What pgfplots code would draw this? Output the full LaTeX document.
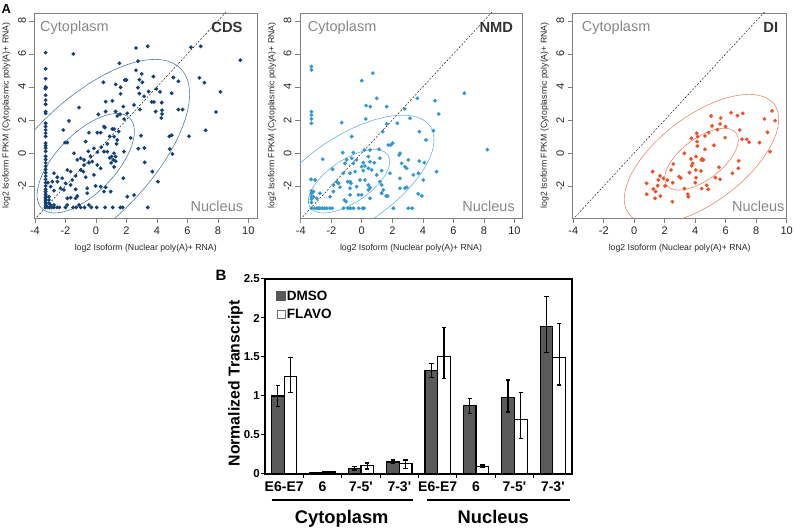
\documentclass[border=0pt]{standalone}
\usepackage{pgfplots}
\pgfplotsset{compat=1.18}
\usepackage{fontspec}
\setmainfont{Liberation Sans}

\definecolor{cdsdot}{RGB}{16,64,120}
\definecolor{cdsell}{RGB}{85,125,165}
\definecolor{nmddot}{RGB}{50,150,210}
\definecolor{nmdell}{RGB}{110,180,220}
\definecolor{didot}{RGB}{235,80,40}
\definecolor{diell}{RGB}{235,135,105}
\definecolor{lblgray}{RGB}{135,135,135}
\definecolor{dmso}{RGB}{90,90,90}

\pgfplotsset{
 panelA/.style={
  scale only axis, height=205pt,
  ymin=-3.94, ymax=8.48,
  xtick={-4,-2,0,2,4,6,8,10}, ytick={-2,0,2,4,6,8},
  xtick pos=bottom, ytick pos=left,
  tick align=outside, major tick length=5pt,
  axis line style={draw=black!50, line width=0.6pt},
  tick style={draw=black!50, line width=0.6pt},
  tick label style={font=\fontsize{11}{11}\selectfont, text=black!85},
  yticklabel style={rotate=90, anchor=south},
  /pgf/number format/assume math mode=true,
  xlabel={log2 Isoform (Nuclear poly(A)+ RNA)},
  ylabel={log2 Isoform FPKM (Cytoplasmic poly(A)+ RNA)},
  label style={font=\fontsize{8.7}{8.7}\selectfont, text=black!85},
  xlabel style={at={([yshift=-30.3pt]axis description cs:0.5,0)}, anchor=center},
  ylabel style={at={([xshift=-28pt]axis description cs:0,0.5)}, anchor=center},
 },
 diag/.style={black, line width=0.4pt, dash pattern=on 2pt off 1.6pt},
 dots/.style={only marks, mark=*, mark size=1.9pt, color=#1, mark options={draw=#1, fill=#1, line width=0.1pt}},
}

\begin{document}
\begin{tikzpicture}
\useasboundingbox (0,0) rectangle (796pt,529pt);

% ---------------- CDS ----------------
\begin{axis}[panelA, at={(34.5pt,311pt)}, anchor=south west, width=222.5pt,
  xmin=-4.03, xmax=10.57]
\addplot[diag] coordinates {(-5,-5) (11,11)};
\draw[cdsell, line width=0.6pt, rotate around={46:(axis cs:-0.667,-0.624)}] (axis cs:-0.667,-0.624) ellipse [x radius=63pt, y radius=29.5pt];
\draw[cdsell, line width=0.6pt, rotate around={45:(axis cs:-0.667,-0.624)}] (axis cs:-0.667,-0.624) ellipse [x radius=134pt, y radius=60pt];
\addplot[dots=cdsdot] coordinates {
(-3.3,6.08)(-3.3,5.1)(-3.3,4.5)(-3.3,4.0)(-3.28,3.95)(-3.32,3.9)(-3.3,3.5)(-3.3,3.2)(-3.3,2.95)(-3.3,2.5)(-3.3,2.4)(-3.3,1.8)(-3.3,1.6)(-3.3,1.4)(-3.3,1.2)(-3.3,1.0)(-3.3,0.6)(-3.3,0.45)(-3.3,0.3)(-3.3,0.1)(-3.3,-0.2)(-3.3,-0.4)(-3.3,-0.6)(-3.3,-0.8)(-3.3,-1.0)(-3.3,-1.2)(-3.3,-1.4)(-3.3,-1.6)(-3.3,-1.8)(-3.3,-2.0)(-3.3,-2.2)(-3.3,-2.35)(-3.3,-2.5)(-3.3,-2.6)(-3.3,-2.7)(-3.3,-2.8)(-3.3,-2.9)(-3.3,-3.0)(-3.3,-3.1)(-3.3,-3.2)(-3.3,-3.3)
(-3.15,-3.3)(-3.05,-3.3)(-2.9,-3.3)(-2.75,-3.3)(-2.55,-3.3)(-2.4,-3.3)(-2.0,-3.3)(-1.5,-3.3)(-1.3,-3.3)(-1.0,-3.3)(-0.75,-3.3)(-0.3,-3.3)(0.05,-3.3)(0.6,-3.3)(1.1,-3.3)(1.6,-3.3)(1.75,-3.3)(3.4,-3.3)
(2.63,6.36)(3.40,6.46)(6.24,6.40)(6.88,6.46)(9.48,5.62)(-1.48,6.0)(2.76,5.56)(1.54,5.43)(2.63,5.01)(3.0,4.79)(3.77,4.63)(2.85,4.44)(3.05,4.28)(5.08,4.57)(5.41,4.34)(6.79,4.55)(7.12,4.26)(2.76,3.96)(3.46,3.72)(3.97,3.88)(4.21,3.70)(2.85,3.60)(3.16,3.43)(4.97,3.62)(8.17,3.70)(2.50,2.91)(2.89,2.63)(3.66,3.09)(3.81,3.09)(4.32,3.05)(3.92,2.51)(4.34,2.59)(4.34,2.36)(4.29,2.12)(5.41,2.63)(5.69,2.63)(7.88,2.48)(2.28,0.91)(2.96,1.05)(4.82,1.01)(4.97,1.07)(6.11,1.01)(7.2,1.37)(2.78,0.26)(3.18,0.30)(4.84,0.24)(5.02,-0.06)(3.2,-0.57)
(0.49,4.28)(1.9,4.42)(2.0,4.42)(1.62,3.98)(1.3,4.15)
(1.62,3.58)(1.08,3.15)(0.64,3.11)(1.8,2.81)(-1.11,2.75)(0.16,2.34)(0.64,2.51)(1.29,2.51)(1.4,2.24)(1.58,2.34)(-1.77,1.94)(-2.14,1.39)(0.53,1.6)(0.59,1.54)(0.09,1.23)(0.31,1.23)(-0.46,1.23)(1.19,0.99)(1.40,0.79)(-2.03,0.63)(-1.88,0.63)(-0.67,0.69)(-0.13,0.28)(0.53,0.08)(0.75,0.08)(1.19,-0.02)(1.03,-0.22)(1.29,-0.22)(1.14,-0.42)(1.84,0.08)(-1.22,-0.42)(-1.0,-0.32)(-0.78,-0.42)(-1.44,-0.02)(1.08,1.45)(1.2,1.45)(0.9,1.0)(-0.5,0.1)(0.1,0.05)(-0.35,-0.2)(0.35,0.35)(1.0,-0.6)(1.3,-0.5)(1.2,-0.85)(0.9,-0.3)(1.35,0.55)(1.5,1.3)(0.75,0.55)(1.85,2.05)(2.05,2.4)
(-2.75,-1.23)(-2.53,-1.47)(-2.21,-1.53)(-1.88,-1.03)(-1.66,-1.13)(-1.55,-1.64)(-1.33,-1.39)(-1.0,-1.03)(-0.78,-0.73)(-0.83,-1.13)(-0.46,-0.59)(-0.24,-0.52)(0.09,-0.73)(0.31,-0.93)(-0.67,-1.47)(-0.13,-1.33)(-1.99,-1.84)(-2.53,-1.74)(-2.86,-1.74)(-3.15,-1.80)(-2.97,-2.04)(-2.32,-2.14)(-2.10,-2.24)(-2.75,-2.28)(-1.66,-1.94)(-1.33,-2.20)(-0.57,-2.14)(-0.02,-2.0)(0.31,-2.04)(0.64,-2.08)(0.53,-2.34)(0.97,-2.34)(-0.57,-2.44)(1.80,-1.53)(-1.88,-2.75)(-1.66,-2.71)(-1.22,-2.61)(-1.33,-2.75)(-1.11,-3.15)(-0.46,-3.15)(-2.75,-3.15)(-3.08,-2.65)(-3.08,-2.85)(-3.08,-3.05)(-2.97,-3.15)(-1.88,-3.15)(2.06,-2.65)(2.50,-2.55)(3.7,-1.13)(4.07,-1.74)
};
\node[anchor=base west, text=lblgray, font=\fontsize{14.5}{14.5}\selectfont, inner sep=0pt] at ([xshift=5.5pt,yshift=-19pt]rel axis cs:0,1) {Cytoplasm};
\node[anchor=base east, text=black!80, font=\bfseries\fontsize{14.7}{14.7}\selectfont, inner sep=0pt] at ([xshift=-14.3pt,yshift=-19.3pt]rel axis cs:1,1) {CDS};
\node[anchor=base east, text=lblgray, font=\fontsize{14.5}{14.5}\selectfont, inner sep=0pt] at ([xshift=-13.7pt,yshift=6.3pt]rel axis cs:1,0) {Nucleus};
\end{axis}

% ---------------- NMD ----------------
\begin{axis}[panelA, at={(300pt,311pt)}, anchor=south west, width=222pt,
  xmin=-4.05, xmax=10.5]
\addplot[diag] coordinates {(-5,-5) (11,11)};
\draw[nmdell, line width=0.6pt, rotate around={34:(axis cs:-0.835,-1.715)}] (axis cs:-0.835,-1.715) ellipse [x radius=47pt, y radius=21.4pt];
\draw[nmdell, line width=0.6pt, rotate around={34:(axis cs:-0.835,-1.715)}] (axis cs:-0.835,-1.715) ellipse [x radius=98pt, y radius=44.5pt];
\addplot[dots=nmddot] coordinates {
(-3.3,5.23)(-3.3,5.03)(-3.3,2.5)(-3.3,2.3)(-3.3,2.06)(-3.3,1.8)(-3.33,-1.6)(-3.3,-2.3)(-3.3,-2.45)(-3.3,-2.65)(-3.3,-2.8)(-3.3,-3.0)(-3.3,-3.35)
(-3.1,-3.35)(-2.95,-3.35)(-2.85,-3.35)(-2.75,-3.35)(-2.6,-3.35)(-2.45,-3.35)(-2.3,-3.35)(-2.1,-3.35)(-1.95,-3.35)(-1.2,-3.35)(-0.9,-3.35)(-0.75,-3.35)(-0.55,-3.35)(-0.2,-3.35)(0.05,-3.35)(0.15,-3.35)(2.07,-3.35)(3.05,-3.35)(3.3,-3.35)
(0.0,4.38)(0.72,4.83)(0.98,3.31)(3.64,3.31)(4.80,3.17)(5.04,2.36)(6.72,3.62)(8.23,0.2)
(0.28,2.87)(0.56,2.81)(1.63,2.81)(2.81,2.67)(-1.32,1.84)(1.63,1.76)(2.33,1.80)(3.16,2.10)(0.26,2.06)
(-0.66,0.99)(1.37,1.29)(3.77,1.29)(4.69,1.35)(4.21,0.79)(1.74,0.48)(1.89,0.48)(2.02,0.59)(2.5,-0.02)
(-1.25,0.02)(-0.55,0.02)(0.17,0.18)(0.54,0.18)(1.13,0.22)(-2.56,-0.38)(-0.99,-0.42)(-0.66,-0.32)(-0.34,-0.42)(0.43,-0.22)(-1.1,-0.63)(-0.55,-0.63)(0.10,-0.59)(0.54,-0.53)(0.82,-0.59)(1.19,-0.32)(2.46,-0.12)(3.05,-0.42)(3.77,-0.49)(4.1,-0.59)(2.61,-0.63)(2.83,-0.83)(2.94,-0.93)(4.9,-1.13)
(-1.91,-0.99)(-0.01,-0.83)(0.21,-0.79)(0.43,-0.93)(0.65,-1.03)(0.1,-1.07)(-0.44,-1.13)(-1.21,-1.23)(-0.77,-1.23)(0.98,-1.33)(1.30,-1.07)(1.85,-1.23)(2.5,-1.54)(3.38,-1.33)(3.71,-1.23)
(-3.06,-1.64)(-1.64,-1.74)(-1.53,-1.84)(-0.92,-1.74)(-0.77,-1.74)(-0.71,-1.84)(-0.12,-1.64)(0.21,-1.64)(1.19,-1.74)(-1.86,-1.94)(-1.43,-2.08)(-0.77,-2.14)(-0.34,-2.04)(0.43,-1.94)(0.43,-2.24)(0.55,-2.1)(2.5,-2.14)(2.94,-2.08)(1.3,-1.94)(1.41,-2.24)(-2.74,-2.44)(-3.17,-2.34)(-1.86,-2.34)(-0.77,-2.54)(-0.22,-2.54)(-0.01,-2.54)(0.54,-2.75)(1.3,-2.44)(3.7,-2.48)(2.83,-2.14)(-3.17,-2.65)(-2.95,-2.75)(-2.08,-2.65)(-1.14,-2.85)(-1.03,-2.95)(3.93,-2.6)(4.03,-1.64)(1.6,-2.6)(1.7,-2.62)
};
\node[anchor=base west, text=lblgray, font=\fontsize{14.5}{14.5}\selectfont, inner sep=0pt] at ([xshift=7.7pt,yshift=-19pt]rel axis cs:0,1) {Cytoplasm};
\node[anchor=base east, text=black!80, font=\bfseries\fontsize{14.7}{14.7}\selectfont, inner sep=0pt] at ([xshift=-8.7pt,yshift=-19.3pt]rel axis cs:1,1) {NMD};
\node[anchor=base east, text=lblgray, font=\fontsize{14.5}{14.5}\selectfont, inner sep=0pt] at ([xshift=-7pt,yshift=6.3pt]rel axis cs:1,0) {Nucleus};
\end{axis}

% ---------------- DI ----------------
\begin{axis}[panelA, at={(572.7pt,311pt)}, anchor=south west, width=214pt,
  xmin=-4.04, xmax=10.0]
\addplot[diag] coordinates {(-5,-5) (11,11)};
\draw[diell, line width=0.6pt, rotate around={37:(axis cs:4.41,-0.376)}] (axis cs:4.41,-0.376) ellipse [x radius=43.4pt, y radius=20.6pt];
\draw[diell, line width=0.6pt, rotate around={37:(axis cs:4.41,-0.376)}] (axis cs:4.41,-0.376) ellipse [x radius=91pt, y radius=43.3pt];
\addplot[dots=didot] coordinates {
(9.04,2.55)(9.24,1.96)(8.54,2.06)(8.74,1.25)(8.91,0.08)(8.21,0.63)(7.53,0.65)(7.38,0.83)(7.07,0.83)(7.12,2.4)(6.77,2.26)(6.35,2.44)(6.92,1.39)(6.85,-0.48)(6.83,-0.93)(6.44,-1.23)
(5.96,0.93)(5.98,1.6)(5.63,1.76)(5.67,2.12)(5.04,2.24)(5.10,1.64)(5.45,1.41)(4.88,1.23)(4.64,1.03)(4.1,1.19)(4.16,0.99)(4.12,0.69)(4.14,0.42)(4.64,0.22)(5.23,0.46)(3.75,0.89)
(3.29,-0.02)(3.72,-0.36)(3.77,-0.77)(3.83,-0.63)(4.05,-0.22)(4.4,-0.42)(4.45,-0.36)(4.54,-0.42)(4.47,-0.40)(4.03,-1.03)(4.38,-1.09)(3.62,-1.19)(4.05,-1.5)(2.94,-1.43)(3.05,-1.52)(4.0,-1.8)(3.29,-2.16)(3.51,-2.5)(3.55,-2.65)(4.42,-2.16)(4.75,-1.96)(4.86,-2.2)(5.32,-1.5)(5.63,-1.6)(5.56,-0.87)
(2.41,-1.03)(2.56,-0.67)(2.52,-1.8)(1.91,-1.54)(1.58,-1.64)(1.69,-1.39)(1.54,-1.98)(1.25,-2.18)(1.21,-1.13)(1.4,-2.34)(1.36,-2.75)(1.71,-2.61)(0.81,-1.84)(0.81,-2.5)(2.5,-2.95)(2.17,-1.64)(2.02,-2.0)
};
\node[anchor=base west, text=lblgray, font=\fontsize{14.5}{14.5}\selectfont, inner sep=0pt] at ([xshift=9pt,yshift=-19pt]rel axis cs:0,1) {Cytoplasm};
\node[anchor=base east, text=black!80, font=\bfseries\fontsize{14.7}{14.7}\selectfont, inner sep=0pt] at ([xshift=-8.4pt,yshift=-19.3pt]rel axis cs:1,1) {DI};
\node[anchor=base east, text=lblgray, font=\fontsize{14.5}{14.5}\selectfont, inner sep=0pt] at ([xshift=-2pt,yshift=6.3pt]rel axis cs:1,0) {Nucleus};
\end{axis}

% ---------------- B ----------------
\begin{axis}[
  at={(265pt,55pt)}, anchor=south west, scale only axis,
  width=307pt, height=195pt,
  xmin=0.5, xmax=8.5, ymin=0, ymax=2.5,
  ybar=0pt, bar width=12.7pt,
  axis line style={line width=1.3pt},
  xtick={1.5,2.5,...,7.5},
  xticklabels={},
  extra x ticks={1,2,3,4,5,6,7,8},
  extra x tick labels={E6-E7,6,7-5\textquotesingle,7-3\textquotesingle,E6-E7,6,7-5\textquotesingle,7-3\textquotesingle},
  extra x tick style={major tick length=0pt, xticklabel style={font=\bfseries\fontsize{14}{14}\selectfont, anchor=north, inner sep=0pt, yshift=-7.7pt}},
  ytick={0,0.5,1,1.5,2,2.5},
  yticklabels={0,0.5,1,1.5,2,2.5},
  ytick pos=left, xtick pos=bottom,
  tick align=outside, major tick length=4pt,
  major tick style={draw=black, line width=1pt},
  yticklabel style={font=\bfseries\fontsize{11.5}{11.5}\selectfont, inner sep=1pt},
  ylabel={Normalized Transcript},
  ylabel style={at={([xshift=-29.5pt]rel axis cs:0,0.465)}, anchor=center, font=\bfseries\fontsize{15.8}{15.8}\selectfont},
  legend style={at={(rel axis cs:0.035,0.945)}, anchor=north west, draw=none, fill=none,
    inner sep=0pt, font=\bfseries\fontsize{13.5}{13.5}\selectfont, row sep=5pt,
    nodes={inner sep=1pt}, /tikz/every even column/.append style={column sep=1.5pt}},
  legend cell align=left,
]
\addplot[fill=dmso, draw=black, line width=1.2pt,
  legend image code/.code={\fill[dmso] (0pt,-4.3pt) rectangle (8.7pt,4.3pt);},
  error bars/.cd, y dir=both, y explicit,
  error bar style={line width=1.2pt, black},
  error mark options={rotate=90, mark size=2.2pt, line width=1.2pt, black}]
coordinates {
(1,1.00) += (0,0.135) -= (0,0.13)
(2,0.012) += (0,0.004) -= (0,0.004)
(3,0.075) += (0,0.025) -= (0,0.025)
(4,0.155) += (0,0.025) -= (0,0.025)
(5,1.33) += (0,0.09) -= (0,0.09)
(6,0.875) += (0,0.095) -= (0,0.095)
(7,0.985) += (0,0.22) -= (0,0.19)
(8,1.89) += (0,0.39) -= (0,0.33)
};
\addlegendentry{DMSO}
\addplot[fill=white, draw=black, line width=1.2pt,
  legend image code/.code={\draw[black!55, line width=0.5pt, fill=white] (0.25pt,-4.05pt) rectangle (8.45pt,4.05pt);},
  error bars/.cd, y dir=both, y explicit,
  error bar style={line width=1.2pt, black},
  error mark options={rotate=90, mark size=2.2pt, line width=1.2pt, black}]
coordinates {
(1,1.25) += (0,0.24) -= (0,0.21)
(2,0.025) += (0,0.005) -= (0,0.005)
(3,0.105) += (0,0.035) -= (0,0.04)
(4,0.13) += (0,0.05) -= (0,0.06)
(5,1.51) += (0,0.365) -= (0,0.29)
(6,0.10) += (0,0.015) -= (0,0.015)
(7,0.70) += (0,0.34) -= (0,0.24)
(8,1.49) += (0,0.44) -= (0,0.35)
};
\addlegendentry{FLAVO}
\end{axis}

% group labels
\draw[line width=1.8pt] (271.7pt,29pt) -- (413pt,29pt);
\draw[line width=1.8pt] (427pt,29pt) -- (570pt,29pt);
\node[anchor=base, inner sep=0pt, font=\bfseries\fontsize{18.3}{18.3}\selectfont] at (341.7pt,5pt) {Cytoplasm};
\node[anchor=base, inner sep=0pt, font=\bfseries\fontsize{18.3}{18.3}\selectfont] at (493.3pt,5pt) {Nucleus};

% panel letters
\node[anchor=base west, inner sep=0pt, font=\bfseries\fontsize{13}{13}\selectfont] at (1.5pt,515.7pt) {A};
\node[anchor=base west, inner sep=0pt, font=\bfseries\fontsize{15}{15}\selectfont] at (215.5pt,248.3pt) {B};
\end{tikzpicture}
\end{document}
